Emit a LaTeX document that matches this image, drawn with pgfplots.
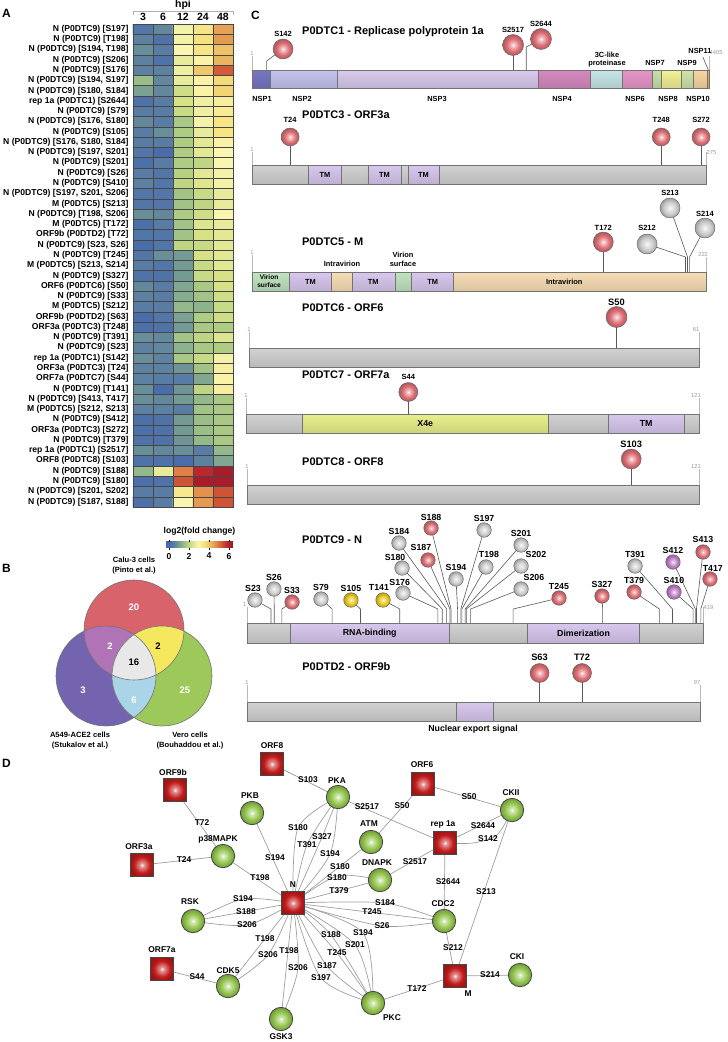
\documentclass[border=0pt]{standalone}
\usepackage{fontspec}
\setmainfont{Liberation Sans}
\usepackage{pgfplots}
\pgfplotsset{compat=1.18}

\definecolor{lpRed}{RGB}{222,112,118}
\definecolor{lpGray}{RGB}{205,205,205}
\definecolor{lpYel}{RGB}{232,200,30}
\definecolor{lpPur}{RGB}{192,125,198}
\definecolor{ndGreen}{RGB}{148,198,78}
\definecolor{ndRed}{RGB}{195,28,28}
\definecolor{bgray}{RGB}{210,210,210}
\definecolor{dTM}{RGB}{216,200,238}
\definecolor{dIV}{RGB}{248,222,182}
\definecolor{dVS}{RGB}{192,228,192}
\definecolor{dX4e}{RGB}{232,240,140}
\definecolor{n1}{RGB}{118,118,196}
\definecolor{n2}{RGB}{196,196,238}
\definecolor{n3}{RGB}{218,202,238}
\definecolor{n4}{RGB}{214,138,192}
\definecolor{n5}{RGB}{198,230,232}
\definecolor{n6}{RGB}{230,150,200}
\definecolor{n7}{RGB}{200,225,165}
\definecolor{n8}{RGB}{242,242,150}
\definecolor{n9}{RGB}{205,228,170}
\definecolor{n10}{RGB}{248,214,160}
\definecolor{n11}{RGB}{235,170,90}
\definecolor{vred}{RGB}{217,99,107}
\definecolor{vpur}{RGB}{116,100,176}
\definecolor{vgrn}{RGB}{157,200,90}
\definecolor{vpk}{RGB}{176,116,182}
\definecolor{vyel}{RGB}{245,232,95}
\definecolor{vblue}{RGB}{170,212,232}
\definecolor{vgray}{RGB}{232,232,232}

\newcommand{\sqpath}{%
  \pgfpathmoveto{\pgfqpoint{-\pgfplotmarksize}{0pt}}%
  \pgfpathlineto{\pgfqpoint{-\pgfplotmarksize}{\pgfplotmarksize}}%
  \pgfpathlineto{\pgfqpoint{\pgfplotmarksize}{\pgfplotmarksize}}%
  \pgfpathlineto{\pgfqpoint{\pgfplotmarksize}{-\pgfplotmarksize}}%
  \pgfpathlineto{\pgfqpoint{-\pgfplotmarksize}{-\pgfplotmarksize}}%
  \pgfpathclose}
\newcommand{\defglow}[2]{%
  \pgfdeclareradialshading{gl#1}{\pgfpointorigin}{color(0bp)=(white); color(3bp)=(white!65!#2); color(15bp)=(#2); color(25bp)=(#2!78!black); color(50bp)=(#2!78!black)}%
  \pgfdeclareradialshading{gs#1}{\pgfpointorigin}{color(0bp)=(white); color(4bp)=(white!55!#2); color(17bp)=(#2); color(25bp)=(#2!80!black); color(50bp)=(#2!80!black)}%
  \pgfdeclareplotmark{c#1}{%
    \pgfpathcircle{\pgfpointorigin}{\pgfplotmarksize}%
    \pgfshadepath{gl#1}{0}%
    \pgfpathcircle{\pgfpointorigin}{\pgfplotmarksize}%
    \pgfusepathqstroke}%
  \pgfdeclareplotmark{s#1}{%
    \pgfsetcornersarced{\pgfpoint{2pt}{2pt}}%
    \sqpath\pgfshadepath{gs#1}{0}%
    \sqpath\pgfusepathqstroke}%
}
\defglow{R}{lpRed}
\defglow{G}{lpGray}
\defglow{Y}{lpYel}
\defglow{P}{lpPur}
\defglow{K}{ndGreen}
\defglow{Q}{ndRed}

\tikzset{
  lab/.style={font=\fontsize{\lps}{10}\selectfont\bfseries, inner sep=0pt},
  glab/.style={font=\fontsize{5.8}{6}\selectfont, text=black!40, inner sep=0.5pt},
  dlab/.style={font=\fontsize{7.4}{8}\selectfont\bfseries, inner sep=0pt},
  dlabL/.style={font=\fontsize{8.8}{9}\selectfont\bfseries, inner sep=0pt},
  ttl/.style={font=\fontsize{11}{13}\selectfont\bfseries, inner sep=0pt, anchor=west},
  elab/.style={font=\fontsize{8.4}{9}\selectfont\bfseries, inner sep=0pt},
  plet/.style={font=\fontsize{12}{14}\selectfont\bfseries, inner sep=0pt, anchor=west},
  vlab/.style={font=\fontsize{7.6}{9}\selectfont\bfseries, inner sep=0pt},
  vnum/.style={font=\fontsize{9.5}{10}\selectfont\bfseries, inner sep=0pt},
}
\pgfplotsset{
  prot/.style={scale only axis, axis lines=none, clip=false, xmin=1, ymin=0, anchor=south west},
  stem/.style={mark=none, draw=black!65, line width=0.6pt},
  endl/.style={mark=none, draw=black!28, line width=0.6pt},
  edge/.style={mark=none, smooth, draw=black!38, line width=0.7pt},
}
\newcommand{\dom}[3]{\addplot[draw=black!55, line width=0.5pt, top color=#3, middle color=#3!30!white, bottom color=#3!88!black] coordinates {(#1,0) (#2,0) (#2,\barh) (#1,\barh)} -- cycle;}
\newcommand{\st}[4]{\addplot[stem] coordinates {(#1,\barh) (#1,#2) (#3,#4)};}
\newcommand{\hd}[7]{\addplot[only marks, mark=#3, mark size=#4pt, mark options={draw=black!60, line width=0.45pt}] coordinates {(#1,#2)};
  \node[lab] at (axis cs:#6,#7) {#5};}

\begin{document}
\begin{tikzpicture}[x=1pt,y=1pt]
\useasboundingbox (0,0) rectangle (728,-1042);

% ================= Panel A: heatmap =================
\begin{axis}[
  at={(133pt,-507pt)}, anchor=south west,
  width=100pt, height=483pt, scale only axis,
  xmin=-0.5, xmax=4.5, ymin=0.5, ymax=47.5,
  xtick={0,1,2,3,4}, xticklabels={3,6,12,24,48}, xticklabel pos=upper,
  ytick={1,...,47},
  yticklabels={{N (P0DTC9) [S187, S188]},{N (P0DTC9) [S201, S202]},{N (P0DTC9) [S180]},{N (P0DTC9) [S188]},{ORF8 (P0DTC8) [S103]},{rep 1a (P0DTC1) [S2517]},{N (P0DTC9) [T379]},{ORF3a (P0DTC3) [S272]},{N (P0DTC9) [S412]},{M (P0DTC5) [S212, S213]},{N (P0DTC9) [S413, T417]},{N (P0DTC9) [T141]},{ORF7a (P0DTC7) [S44]},{ORF3a (P0DTC3) [T24]},{rep 1a (P0DTC1) [S142]},{N (P0DTC9) [S23]},{N (P0DTC9) [T391]},{ORF3a (P0DTC3) [T248]},{ORF9b (P0DTD2) [S63]},{M (P0DTC5) [S212]},{N (P0DTC9) [S33]},{ORF6 (P0DTC6) [S50]},{N (P0DTC9) [S327]},{M (P0DTC5) [S213, S214]},{N (P0DTC9) [T245]},{N (P0DTC9) [S23, S26]},{ORF9b (P0DTD2) [T72]},{M (P0DTC5) [T172]},{N (P0DTC9) [T198, S206]},{M (P0DTC5) [S213]},{N (P0DTC9) [S197, S201, S206]},{N (P0DTC9) [S410]},{N (P0DTC9) [S26]},{N (P0DTC9) [S201]},{N (P0DTC9) [S197, S201]},{N (P0DTC9) [S176, S180, S184]},{N (P0DTC9) [S105]},{N (P0DTC9) [S176, S180]},{N (P0DTC9) [S79]},{rep 1a (P0DTC1) [S2644]},{N (P0DTC9) [S180, S184]},{N (P0DTC9) [S194, S197]},{N (P0DTC9) [S176]},{N (P0DTC9) [S206]},{N (P0DTC9) [S194, T198]},{N (P0DTC9) [T198]},{N (P0DTC9) [S197]}},
  major tick length=0pt, minor tick length=0pt,
  yticklabel style={font=\fontsize{8.6}{9}\selectfont\bfseries, xshift=-1pt},
  xticklabel style={font=\fontsize{10.5}{11}\selectfont\bfseries},
  minor xtick={-0.5,0.5,...,4.5}, minor ytick={0.5,1.5,...,47.5},
  grid=minor, minor grid style={draw=black!72, line width=0.35pt},
  axis on top, axis line style={draw=black!72, line width=0.35pt},
  colormap={hm}{rgb255(0pt)=(65,100,175) rgb255(6pt)=(82,118,168) rgb255(11pt)=(110,148,150) rgb255(16pt)=(140,180,140) rgb255(21pt)=(175,205,130) rgb255(26pt)=(215,226,135) rgb255(32pt)=(250,245,176) rgb255(38pt)=(245,225,125) rgb255(45pt)=(235,180,95) rgb255(53pt)=(220,110,60) rgb255(61pt)=(185,40,45) rgb255(67pt)=(160,20,40)},
  point meta min=-0.3, point meta max=6.4,
  colorbar horizontal,
  colorbar style={
    at={(parent axis.south east)}, anchor=north east, yshift=-26pt,
    width=67pt, height=6pt, scale only axis,
    xtick={0,2,4,6}, tick align=outside, major tick length=2pt,
    xtick style={draw=black, line width=0.6pt},
    /pgf/number format/assume math mode=true,
    xticklabel style={font=\fontsize{8.6}{9}\selectfont\bfseries},
    title={log2(fold change)}, title style={font=\fontsize{8.6}{9}\selectfont\bfseries, yshift=-3pt},
    axis line style={draw=none},
  },
]
\addplot[matrix plot*, mesh/cols=5, point meta=explicit] table[x=x, y=y, meta=c] {
x y c
0 1 0.1
1 1 0.4
2 1 2.9
3 1 4.5
4 1 5.3
0 2 0.4
1 2 0.4
2 2 3.3
3 2 4.6
4 2 5.3
0 3 0.1
1 3 0.2
2 3 5.3
3 3 6.2
4 3 6.2
0 4 1.4
1 4 2.6
2 4 4.8
3 4 5.8
4 4 6.2
0 5 0.2
1 5 0.2
2 5 0.0
3 5 0.5
4 5 1.1
0 6 0.7
1 6 0.6
2 6 0.7
3 6 0.4
4 6 1.4
0 7 0.2
1 7 0.2
2 7 0.8
3 7 1.4
4 7 1.7
0 8 0.1
1 8 0.2
2 8 0.9
3 8 1.5
4 8 1.7
0 9 0.1
1 9 0.2
2 9 0.9
3 9 1.5
4 9 1.7
0 10 0.5
1 10 0.5
2 10 0.4
3 10 1.6
4 10 1.7
0 11 0.7
1 11 0.6
2 11 0.9
3 11 1.4
4 11 1.7
0 12 0.7
1 12 0.0
2 12 0.8
3 12 2.0
4 12 3.1
0 13 0.5
1 13 0.4
2 13 0.4
3 13 1.1
4 13 3.0
0 14 0.5
1 14 0.5
2 14 0.8
3 14 1.6
4 14 3.1
0 15 0.7
1 15 0.5
2 15 1.7
3 15 2.1
4 15 2.8
0 16 0.5
1 16 0.6
2 16 1.3
3 16 1.7
4 16 1.8
0 17 0.7
1 17 0.6
2 17 1.6
3 17 2.0
4 17 2.4
0 18 0.1
1 18 0.2
2 18 0.9
3 18 1.7
4 18 1.8
0 19 0.0
1 19 0.3
2 19 1.0
3 19 1.8
4 19 2.2
0 20 0.4
1 20 0.4
2 20 1.4
3 20 1.3
4 20 2.1
0 21 0.5
1 21 0.4
2 21 1.2
3 21 1.6
4 21 2.2
0 22 0.6
1 22 0.4
2 22 1.1
3 22 1.7
4 22 2.3
0 23 0.2
1 23 0.2
2 23 0.9
3 23 2.1
4 23 2.3
0 24 0.4
1 24 0.3
2 24 0.9
3 24 2.1
4 24 2.5
0 25 0.3
1 25 0.7
2 25 0.9
3 25 2.3
4 25 2.5
0 26 0.0
1 26 0.3
2 26 2.0
3 26 2.1
4 26 2.5
0 27 0.3
1 27 0.3
2 27 1.6
3 27 2.3
4 27 2.5
0 28 0.1
1 28 0.4
2 28 1.6
3 28 2.4
4 28 2.6
0 29 0.7
1 29 0.6
2 29 1.8
3 29 2.2
4 29 2.9
0 30 0.3
1 30 0.3
2 30 1.6
3 30 2.0
4 30 2.6
0 31 0.3
1 31 0.3
2 31 1.6
3 31 2.1
4 31 2.6
0 32 0.5
1 32 0.3
2 32 2.0
3 32 2.4
4 32 2.8
0 33 0.4
1 33 0.3
2 33 1.9
3 33 2.5
4 33 2.8
0 34 0.1
1 34 0.4
2 34 1.8
3 34 2.0
4 34 2.9
0 35 0.3
1 35 0.0
2 35 1.8
3 35 2.5
4 35 2.9
0 36 0.4
1 36 0.4
2 36 1.8
3 36 2.5
4 36 3.0
0 37 0.4
1 37 0.7
2 37 1.8
3 37 2.6
4 37 3.4
0 38 0.6
1 38 0.4
2 38 1.7
3 38 2.8
4 38 3.4
0 39 0.4
1 39 0.4
2 39 2.1
3 39 2.7
4 39 3.2
0 40 0.2
1 40 0.4
2 40 2.3
3 40 2.7
4 40 3.1
0 41 1.0
1 41 0.6
2 41 2.2
3 41 3.0
4 41 3.7
0 42 1.5
1 42 0.6
2 42 2.6
3 42 3.0
4 42 3.6
0 43 0.5
1 43 0.5
2 43 2.7
3 43 3.9
4 43 5.2
0 44 0.5
1 44 0.2
2 44 2.6
3 44 3.0
4 44 4.2
0 45 0.7
1 45 0.4
2 45 2.9
3 45 3.4
4 45 4.0
0 46 0.5
1 46 0.2
2 46 2.8
3 46 3.5
4 46 4.5
0 47 0.3
1 47 0.6
2 47 2.8
3 47 3.4
4 47 4.4
};
\end{axis}

% ================= Panel C: proteins =================
% P0DTC1
\def\barh{18}\def\lps{7.5}
\begin{axis}[prot, at={(252pt,-88pt)}, width=457pt, height=60pt, xmax=4405, ymax=60]
\dom{1}{180}{n1}\dom{180}{818}{n2}\dom{818}{2763}{n3}\dom{2763}{3263}{n4}\dom{3263}{3569}{n5}\dom{3569}{3859}{n6}\dom{3859}{3942}{n7}\dom{3942}{4140}{n8}\dom{4140}{4253}{n9}\dom{4253}{4392}{n10}\dom{4392}{4405}{n11}
\addplot[endl] coordinates {(1,18) (1,32)};
\addplot[endl] coordinates {(4405,18) (4405,32)};
\addplot[stem] coordinates {(4399,18) (4345,31)};
\st{142}{27}{300}{39}
\st{2517}{43}{2517}{43}
\st{2644}{41}{2786}{49}
\hd{300}{39}{cR}{10}{S142}{300}{54}
\hd{2517}{43}{cR}{10.5}{S2517}{2517}{58}
\hd{2786}{49}{cR}{10.5}{S2644}{2786}{64}
\node[glab, anchor=south] at (axis cs:1,32) {1};
\node[glab, anchor=west] at (axis cs:4405,35) {4405};
\node[ttl] at (axis cs:483,56) {P0DTC1 - Replicase polyprotein 1a};
\node[dlab] at (axis cs:97,-11) {NSP1};
\node[dlab] at (axis cs:483,-11) {NSP2};
\node[dlab] at (axis cs:1784,-11) {NSP3};
\node[dlab] at (axis cs:2988,-11) {NSP4};
\node[dlab] at (axis cs:3692,-11) {NSP6};
\node[dlab] at (axis cs:4010,-11) {NSP8};
\node[dlab] at (axis cs:4299,-11) {NSP10};
\node[dlab] at (axis cs:3422,33) {3C-like};
\node[dlab] at (axis cs:3422,24) {proteinase};
\node[dlab] at (axis cs:3885,25) {NSP7};
\node[dlab] at (axis cs:4193,25) {NSP9};
\node[dlab] at (axis cs:4318,37) {NSP11};
\end{axis}

% P0DTC3
\def\barh{19}\def\lps{7.5}
\begin{axis}[prot, at={(252pt,-184pt)}, width=454pt, height=75pt, xmax=275, ymax=75]
\dom{1}{275}{bgray}\dom{35}{55}{dTM}\dom{71}{91}{dTM}\dom{95}{114}{dTM}
\node[dlab] at (axis cs:45,9.5) {TM};
\node[dlab] at (axis cs:81,9.5) {TM};
\node[dlab] at (axis cs:104.5,9.5) {TM};
\addplot[endl] coordinates {(1,19) (1,32)};
\addplot[endl] coordinates {(275,19) (275,32)};
\st{24}{47}{24}{47}
\st{248}{47}{248}{47}
\st{272}{47}{272}{47}
\hd{24}{47}{cR}{9}{T24}{24}{64}
\hd{248}{47}{cR}{9}{T248}{248}{64}
\hd{272}{47}{cR}{9}{S272}{272}{64}
\node[glab, anchor=south] at (axis cs:1,32) {1};
\node[glab, anchor=west] at (axis cs:275,31) {275};
\node[ttl] at (axis cs:31.2,69) {P0DTC3 - ORF3a};
\end{axis}

% P0DTC5
\def\barh{19}\def\lps{7.5}
\begin{axis}[prot, at={(252pt,-291pt)}, width=454pt, height=110pt, xmax=222, ymax=110]
\dom{1}{19}{dVS}\dom{19}{39.5}{dTM}\dom{39.5}{50}{dIV}\dom{50}{70.5}{dTM}\dom{70.5}{78.5}{dVS}\dom{78.5}{99}{dTM}\dom{99}{222}{dIV}
\node[dlab, font=\fontsize{6.6}{7}\selectfont\bfseries] at (axis cs:9.3,14) {Virion};
\node[dlab, font=\fontsize{6.6}{7}\selectfont\bfseries] at (axis cs:9.3,5.5) {surface};
\node[dlab] at (axis cs:29.5,9.5) {TM};
\node[dlab] at (axis cs:60,9.5) {TM};
\node[dlab] at (axis cs:89,9.5) {TM};
\node[dlab] at (axis cs:153,9.5) {Intravirion};
\node[dlab] at (axis cs:44.8,27) {Intravirion};
\node[dlab] at (axis cs:74.5,36) {Virion};
\node[dlab] at (axis cs:74.5,27) {surface};
\addplot[endl] coordinates {(1,19) (1,36)};
\addplot[endl] coordinates {(222,19) (222,34)};
\st{172}{49}{172}{49}
\st{212}{34}{193.3}{47}
\st{213}{34}{204.5}{83}
\st{214}{34}{221.5}{63}
\hd{172}{49}{cR}{10}{T172}{172}{63}
\hd{193.3}{47}{cG}{10}{S212}{193.3}{63}
\hd{204.5}{83}{cG}{10}{S213}{204.5}{98}
\hd{221.5}{63}{cG}{10}{S214}{221.5}{77}
\node[glab, anchor=south] at (axis cs:1,36) {1};
\node[glab, anchor=south] at (axis cs:220.6,34) {222};
\node[ttl] at (axis cs:25.3,49) {P0DTC5 - M};
\end{axis}

% P0DTC6
\def\barh{19}\def\lps{9.3}
\begin{axis}[prot, at={(249pt,-367pt)}, width=450pt, height=75pt, xmax=61, ymax=75]
\dom{1}{61}{bgray}
\addplot[endl] coordinates {(1,19) (1,35)};
\addplot[endl] coordinates {(61,19) (61,35)};
\st{50}{50}{50}{50}
\hd{50}{50}{cR}{10.5}{S50}{50}{65}
\node[glab, anchor=south] at (axis cs:1,35) {1};
\node[glab, anchor=south] at (axis cs:60.6,35) {61};
\node[ttl] at (axis cs:8.07,59) {P0DTC6 - ORF6};
\end{axis}

% P0DTC7
\def\barh{19}\def\lps{7.5}
\begin{axis}[prot, at={(246pt,-433pt)}, width=453pt, height=65pt, xmax=121, ymax=65]
\dom{1}{121}{bgray}\dom{16}{81}{dX4e}\dom{97}{117}{dTM}
\node[dlabL] at (axis cs:48.5,9.5) {X4e};
\node[dlabL] at (axis cs:107,9.5) {TM};
\addplot[endl] coordinates {(1,19) (1,35)};
\addplot[endl] coordinates {(121,19) (121,35)};
\st{44}{41}{44}{41}
\hd{44}{41}{cR}{9.5}{S44}{44}{56}
\node[glab, anchor=south] at (axis cs:1,35) {1};
\node[glab, anchor=south] at (axis cs:120.2,35) {121};
\node[ttl] at (axis cs:15.8,58) {P0DTC7 - ORF7a};
\end{axis}

% P0DTC8
\def\barh{19}\def\lps{9.3}
\begin{axis}[prot, at={(247pt,-504pt)}, width=452pt, height=65pt, xmax=121, ymax=65]
\dom{1}{121}{bgray}
\addplot[endl] coordinates {(1,19) (1,35)};
\addplot[endl] coordinates {(121,19) (121,35)};
\st{103}{45}{103}{45}
\hd{103}{45}{cR}{10}{S103}{103}{60}
\node[glab, anchor=south] at (axis cs:1,35) {1};
\node[glab, anchor=south] at (axis cs:120.2,35) {121};
\node[ttl] at (axis cs:15.6,42) {P0DTC8 - ORF8};
\end{axis}

% P0DTC9
\def\barh{20}\def\lps{8.8}
\begin{axis}[prot, at={(247pt,-643pt)}, width=456pt, height=130pt, xmax=419, ymax=130]
\dom{1}{419}{bgray}\dom{41}{186}{dTM}\dom{258}{361}{dTM}
\node[dlabL] at (axis cs:113.5,10) {RNA-binding};
\node[dlabL] at (axis cs:309.5,10) {Dimerization};
\addplot[endl] coordinates {(1,20) (1,36)};
\addplot[endl] coordinates {(419,20) (419,36)};
\st{23}{34}{8.3}{43}
\st{26}{34}{25.7}{54}
\st{33}{34}{42.3}{41}
\st{79}{34}{68.8}{44}
\st{105}{34}{96.3}{43}
\st{141}{34}{125.7}{43}
\st{176}{34}{144}{50}
\st{180}{34}{143.1}{75}
\st{184}{34}{140.3}{100}
\st{187}{34}{166.9}{83}
\st{188}{34}{169.7}{115}
\st{194}{34}{192.6}{64}
\st{198}{34}{220}{76}
\st{197}{34}{218.3}{113}
\st{201}{34}{252.2}{98}
\st{202}{34}{252.2}{77}
\st{206}{34}{252.2}{54}
\st{245}{34}{287}{45}
\st{327}{34}{326.4}{47}
\st{391}{34}{356.7}{77}
\st{379}{34}{355.8}{51}
\st{412}{34}{391.5}{81}
\st{410}{34}{392.4}{51}
\st{413}{34}{419}{91}
\st{417}{34}{425.4}{64}
\hd{8.3}{43}{cG}{7.3}{S23}{6.5}{55}
\hd{25.7}{54}{cG}{7.3}{S26}{25.7}{66}
\hd{42.3}{41}{cR}{7.3}{S33}{42.3}{53}
\hd{68.8}{44}{cG}{7.3}{S79}{68.8}{56}
\hd{96.3}{43}{cY}{7.3}{S105}{96.3}{55}
\hd{125.7}{43}{cY}{7.3}{T141}{122}{56}
\hd{144}{50}{cG}{7.3}{S176}{141}{61}
\hd{143.1}{75}{cG}{7.3}{S180}{136.7}{86}
\hd{140.3}{100}{cG}{7.3}{S184}{140.3}{112}
\hd{166.9}{83}{cR}{7.3}{S187}{160.5}{96}
\hd{169.7}{115}{cR}{7.3}{S188}{169.7}{126}
\hd{192.6}{64}{cG}{7.3}{S194}{192.6}{76}
\hd{220}{76}{cG}{7.3}{T198}{222.8}{89}
\hd{218.3}{113}{cG}{7.3}{S197}{218.3}{125}
\hd{252.2}{98}{cG}{7.3}{S201}{252.2}{110}
\hd{252.2}{77}{cG}{7.3}{S202}{265.9}{89}
\hd{252.2}{54}{cG}{7.3}{S206}{264}{66}
\hd{287}{45}{cR}{7.3}{T245}{287}{57}
\hd{326.4}{47}{cR}{7.3}{S327}{326.4}{59}
\hd{356.7}{77}{cG}{7.3}{T391}{356.7}{89}
\hd{355.8}{51}{cR}{7.3}{T379}{355.8}{63}
\hd{391.5}{81}{cP}{7.3}{S412}{391.5}{93}
\hd{392.4}{51}{cP}{7.3}{S410}{392.4}{63}
\hd{419}{91}{cR}{7.3}{S413}{419}{104}
\hd{425.4}{64}{cR}{7.3}{T417}{428}{75}
\node[glab, anchor=south] at (axis cs:-1,36) {1};
\node[glab, anchor=west] at (axis cs:419,36) {419};
\node[ttl] at (axis cs:51.4,103) {P0DTC9 - N};
\end{axis}

% P0DTD2
\def\barh{19}\def\lps{9.3}
\begin{axis}[prot, at={(247pt,-721pt)}, width=453pt, height=65pt, xmax=97, ymax=65]
\dom{1}{97}{bgray}\dom{45.3}{53.1}{dTM}
\node[dlabL] at (axis cs:48.9,-8) {Nuclear export signal};
\addplot[endl] coordinates {(1,19) (1,36)};
\addplot[endl] coordinates {(97,19) (97,36)};
\st{63}{48}{63}{48}
\st{72}{48}{72}{48}
\hd{63}{48}{cR}{9.5}{S63}{63}{64}
\hd{72}{48}{cR}{9.5}{T72}{72}{64}
\node[glab, anchor=south] at (axis cs:1,36) {1};
\node[glab, anchor=south] at (axis cs:96.4,36) {97};
\node[ttl] at (axis cs:12.7,54) {P0DTD2 - ORF9b};
\end{axis}

% ================= Canvas: letters, Venn, network =================
\begin{axis}[at={(0pt,0pt)}, anchor=north west, scale only axis, width=728pt, height=1042pt,
  xmin=0, xmax=728, ymin=-1042, ymax=0, axis lines=none, clip=false]
% hpi bracket
\addplot[mark=none, draw=black!30, line width=0.6pt] coordinates {(133,-15) (133,-11) (233,-11) (233,-15)};
\node[font=\fontsize{10.5}{11}\selectfont\bfseries] at (axis cs:183,-5) {hpi};
% panel letters
\node[plet] at (axis cs:2,-13) {A};
\node[plet] at (axis cs:2,-568) {B};
\node[plet] at (axis cs:251,-15) {C};
\node[plet] at (axis cs:2,-763) {D};
% Venn
\pgfplotsextra{%
  \fill[vred] (axis cs:134,-630) circle[radius=50pt];
  \fill[vpur] (axis cs:106,-676) circle[radius=50pt];
  \fill[vgrn] (axis cs:162,-676) circle[radius=50pt];
  \begin{scope}
    \clip (axis cs:134,-630) circle[radius=50pt];
    \fill[vpk] (axis cs:106,-676) circle[radius=50pt];
    \fill[vyel] (axis cs:162,-676) circle[radius=50pt];
  \end{scope}
  \begin{scope}
    \clip (axis cs:106,-676) circle[radius=50pt];
    \fill[vblue] (axis cs:162,-676) circle[radius=50pt];
    \clip (axis cs:134,-630) circle[radius=50pt];
    \fill[vgray] (axis cs:162,-676) circle[radius=50pt];
  \end{scope}
  \draw[black!55, line width=0.6pt] (axis cs:134,-630) circle[radius=50pt];
  \draw[black!55, line width=0.6pt] (axis cs:106,-676) circle[radius=50pt];
  \draw[black!55, line width=0.6pt] (axis cs:162,-676) circle[radius=50pt];
}
\node[vnum, text=white] at (axis cs:134,-607) {20};
\node[vnum, text=white] at (axis cs:110,-646) {2};
\node[vnum] at (axis cs:158,-646) {2};
\node[vnum] at (axis cs:134,-662) {16};
\node[vnum, text=white] at (axis cs:83,-690) {3};
\node[vnum, text=white] at (axis cs:134,-700) {6};
\node[vnum, text=white] at (axis cs:185,-690) {25};
\node[vlab] at (axis cs:134,-560) {Calu-3 cells};
\node[vlab] at (axis cs:134,-571) {(Pinto et al.)};
\node[vlab] at (axis cs:80,-735) {A549-ACE2 cells};
\node[vlab] at (axis cs:80,-746) {(Stukalov et al.)};
\node[vlab] at (axis cs:190,-735) {Vero cells};
\node[vlab] at (axis cs:190,-746) {(Bouhaddou et al.)};
% network edges
\addplot[edge] coordinates {(272,-764) (338,-797)};
\addplot[edge] coordinates {(175,-790) (223,-856)};
\addplot[edge] coordinates {(142,-865) (223,-856)};
\addplot[edge] coordinates {(162,-969) (228,-986)};
\addplot[edge] coordinates {(423,-784) (371,-842)};
\addplot[edge] coordinates {(423,-784) (512,-810)};
\addplot[edge] coordinates {(338,-797) (445,-843)};
\addplot[edge] coordinates {(380,-880) (445,-843)};
\addplot[edge] coordinates {(445,-843) (512,-810)};
\addplot[edge] coordinates {(445,-843) (473,-843) (497,-835) (512,-810)};
\addplot[edge] coordinates {(445,-843) (444,-921)};
\addplot[edge] coordinates {(512,-810) (455,-976)};
\addplot[edge] coordinates {(444,-921) (455,-976)};
\addplot[edge] coordinates {(455,-976) (520,-975)};
\addplot[edge] coordinates {(455,-976) (373,-1003)};
\addplot[edge] coordinates {(293,-903) (252,-813)};
\addplot[edge] coordinates {(293,-903) (223,-856)};
\addplot[edge] coordinates {(293,-903) (298,-828) (338,-797)};
\addplot[edge] coordinates {(293,-903) (307,-845) (338,-797)};
\addplot[edge] coordinates {(293,-903) (322,-837) (338,-797)};
\addplot[edge] coordinates {(293,-903) (330,-854) (338,-797)};
\addplot[edge] coordinates {(293,-903) (371,-842)};
\addplot[edge] coordinates {(293,-903) (337,-876) (380,-880)};
\addplot[edge] coordinates {(293,-903) (380,-880)};
\addplot[edge] coordinates {(293,-903) (243,-899) (193,-921)};
\addplot[edge] coordinates {(293,-903) (193,-921)};
\addplot[edge] coordinates {(293,-903) (247,-925) (193,-921)};
\addplot[edge] coordinates {(293,-903) (385,-903) (444,-921)};
\addplot[edge] coordinates {(293,-903) (444,-921)};
\addplot[edge] coordinates {(293,-903) (382,-926) (444,-921)};
\addplot[edge] coordinates {(293,-903) (228,-986)};
\addplot[edge] coordinates {(293,-903) (268,-955) (228,-986)};
\addplot[edge] coordinates {(293,-903) (281,-1019)};
\addplot[edge] coordinates {(293,-903) (298,-968) (281,-1019)};
\addplot[edge] coordinates {(293,-903) (331,-935) (373,-1003)};
\addplot[edge] coordinates {(293,-903) (337,-953) (373,-1003)};
\addplot[edge] coordinates {(293,-903) (327,-966) (373,-1003)};
\addplot[edge] coordinates {(293,-903) (321,-978) (373,-1003)};
\addplot[edge] coordinates {(293,-903) (363,-933) (373,-1003)};
\addplot[edge] coordinates {(293,-903) (355,-945) (373,-1003)};
% nodes
\addplot[only marks, mark=cK, mark size=11.7pt, mark options={draw=black!72, line width=0.8pt}] coordinates {
(338,-797) (252,-813) (223,-856) (193,-921) (228,-986) (281,-1019) (371,-842) (380,-880) (512,-810) (444,-921) (520,-975) (373,-1003)};
\addplot[only marks, mark=sQ, mark size=11.7pt, mark options={draw=black!72, line width=0.8pt}] coordinates {
(272,-764) (175,-790) (142,-865) (162,-969) (293,-903) (445,-843) (423,-784) (455,-976)};
% node labels
\node[elab] at (axis cs:272,-746) {ORF8};
\node[elab] at (axis cs:173,-772) {ORF9b};
\node[elab] at (axis cs:139,-847) {ORF3a};
\node[elab] at (axis cs:162,-950) {ORF7a};
\node[elab] at (axis cs:293,-885) {N};
\node[elab] at (axis cs:337,-781) {PKA};
\node[elab] at (axis cs:250,-796) {PKB};
\node[elab] at (axis cs:218,-839) {p38MAPK};
\node[elab] at (axis cs:190,-902) {RSK};
\node[elab] at (axis cs:228,-971) {CDK5};
\node[elab] at (axis cs:281,-1037) {GSK3};
\node[elab] at (axis cs:369,-824) {ATM};
\node[elab] at (axis cs:377,-863) {DNAPK};
\node[elab] at (axis cs:443,-824) {rep 1a};
\node[elab] at (axis cs:422,-765) {ORF6};
\node[elab] at (axis cs:511,-793) {CKII};
\node[elab] at (axis cs:443,-904) {CDC2};
\node[elab] at (axis cs:468,-994) {M};
\node[elab] at (axis cs:517,-957) {CKI};
\node[elab] at (axis cs:392,-1018) {PKC};
% edge labels
\node[elab] at (axis cs:308,-780) {S103};
\node[elab] at (axis cs:202,-823) {T72};
\node[elab] at (axis cs:184,-860) {T24};
\node[elab] at (axis cs:197,-977) {S44};
\node[elab] at (axis cs:402,-806) {S50};
\node[elab] at (axis cs:469,-797) {S50};
\node[elab] at (axis cs:367,-807) {S2517};
\node[elab] at (axis cs:415,-862) {S2517};
\node[elab] at (axis cs:483,-826) {S2644};
\node[elab] at (axis cs:488,-839) {S142};
\node[elab] at (axis cs:448,-882) {S2644};
\node[elab] at (axis cs:486,-892) {S213};
\node[elab] at (axis cs:453,-948) {S212};
\node[elab] at (axis cs:490,-975) {S214};
\node[elab] at (axis cs:417,-989) {T172};
\node[elab] at (axis cs:275,-858) {S194};
\node[elab] at (axis cs:260,-878) {T198};
\node[elab] at (axis cs:298,-828) {S180};
\node[elab] at (axis cs:307,-845) {T391};
\node[elab] at (axis cs:322,-837) {S327};
\node[elab] at (axis cs:330,-854) {S194};
\node[elab] at (axis cs:340,-867) {S180};
\node[elab] at (axis cs:337,-878) {S180};
\node[elab] at (axis cs:339,-891) {T379};
\node[elab] at (axis cs:243,-899) {S194};
\node[elab] at (axis cs:246,-912) {S188};
\node[elab] at (axis cs:247,-925) {S206};
\node[elab] at (axis cs:385,-903) {S184};
\node[elab] at (axis cs:372,-912) {T245};
\node[elab] at (axis cs:382,-926) {S26};
\node[elab] at (axis cs:265,-939) {T198};
\node[elab] at (axis cs:268,-955) {S206};
\node[elab] at (axis cs:289,-951) {T198};
\node[elab] at (axis cs:298,-968) {S206};
\node[elab] at (axis cs:331,-935) {S188};
\node[elab] at (axis cs:337,-953) {T245};
\node[elab] at (axis cs:327,-966) {S187};
\node[elab] at (axis cs:321,-978) {S197};
\node[elab] at (axis cs:363,-933) {S194};
\node[elab] at (axis cs:355,-945) {S201};
\end{axis}
\end{tikzpicture}
\end{document}
